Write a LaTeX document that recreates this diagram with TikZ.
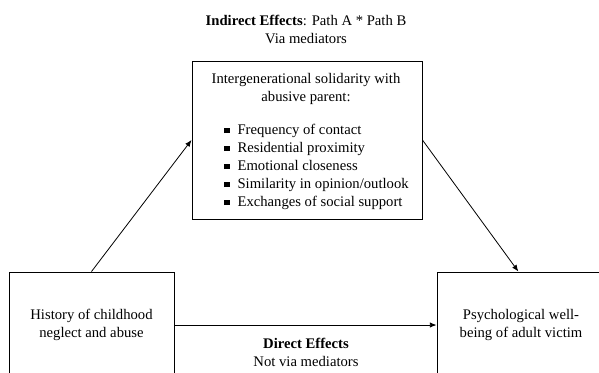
\documentclass[tikz,border=0pt]{standalone}
\usepackage{fontspec}
\setmainfont{Liberation Serif}
\usetikzlibrary{arrows.meta,positioning}
\newcommand{\sqbul}{\rule[0.1em]{0.36em}{0.36em}}

\begin{document}
\begin{tikzpicture}[x=0.75pt,y=-0.75pt,
    box/.style={draw,rectangle,inner sep=0pt,align=center,font=\fontsize{11}{13.5}\selectfont,line width=0.7pt},
    lbl/.style={align=center,font=\fontsize{11}{13.5}\selectfont},
    item/.style={anchor=west,inner sep=0pt,text height=8pt,text depth=2.5pt,font=\fontsize{11}{13.5}\selectfont},
    effect/.style={-{Latex[length=5pt,width=4pt]},line width=0.6pt}
  ]
    \useasboundingbox (0,0) rectangle (599,372);
    \clip (0,0) rectangle (599,372);

    % Headings of the two paths
    \node[lbl] (indirect) at (306,29.5) {\textbf{Indirect Effects}: Path A * Path B\\Via mediators};
    \node[lbl] (direct) at (306,352) {\textbf{Direct Effects}\\Not via mediators};

    % Mediator: intergenerational solidarity
    \node[box,minimum width=172.5pt,minimum height=118.5pt] (med) at (307,140) {};
    \node[lbl] (medtitle) at (306,89) {Intergenerational solidarity with\\abusive parent:};
    \node[item] (contact) at (224,131) {\sqbul\hspace{6pt}Frequency of contact};
    \node[item] (proximity) at (224,149) {\sqbul\hspace{6pt}Residential proximity};
    \node[item] (closeness) at (224,167) {\sqbul\hspace{6pt}Emotional closeness};
    \node[item] (opinion) at (224,185) {\sqbul\hspace{6pt}Similarity in opinion/outlook};
    \node[item] (support) at (224,203) {\sqbul\hspace{6pt}Exchanges of social support};

    % Predictor and outcome
    \node[box,minimum width=123.75pt,minimum height=79.5pt] (abuse) at (91.5,325) {History of childhood\\neglect and abuse};
    \node[box,minimum width=126pt,minimum height=79.5pt] (wellbeing) at (521,325) {Psychological well-\\being of adult victim};

    % Paths
    \draw[effect] (abuse.north) -- (med.west);
    \draw[effect] (med.east) -- ([xshift=-2pt]wellbeing.north);
    \draw[effect] (abuse.east) -- (wellbeing.west);
  \end{tikzpicture}
\end{document}
